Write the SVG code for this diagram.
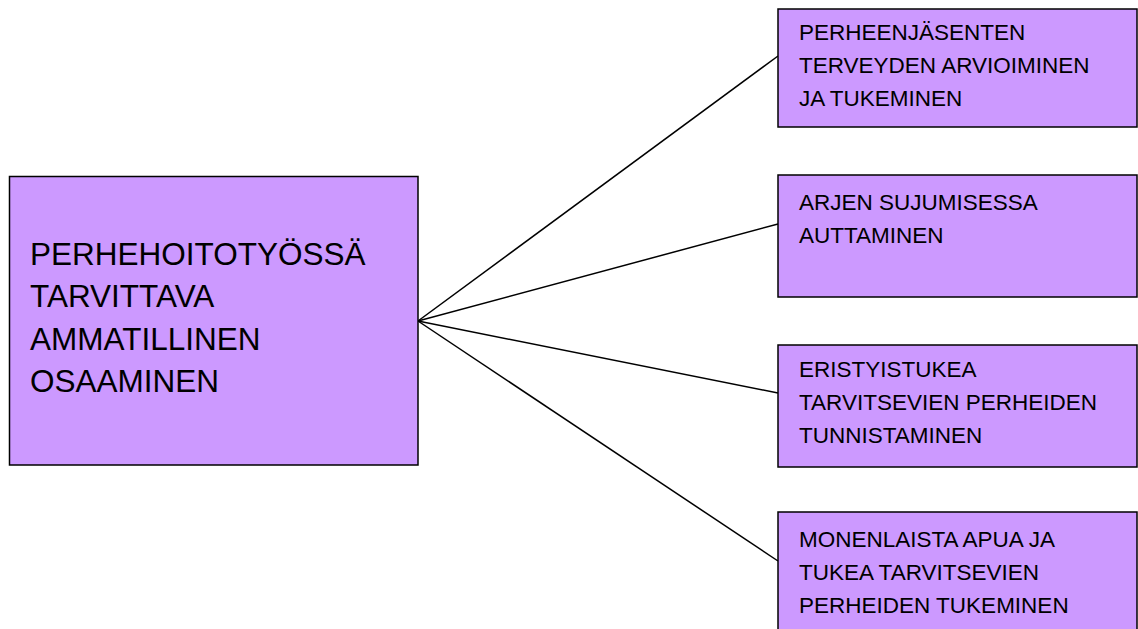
<svg xmlns="http://www.w3.org/2000/svg" width="1138" height="629" viewBox="0 0 1138 629">
<style>
.box{fill:#CC99FF;stroke:#000;stroke-width:1.5}
.t{font-family:"Liberation Sans",Arial,sans-serif;fill:#000}
.big{font-size:31.5px}
.sm{font-size:22.5px}
.con line{stroke:#000;stroke-width:1.5}
</style>
<rect width="1138" height="629" fill="#fff"/>
<g class="con" id="connectors">
<line x1="418" y1="321" x2="778" y2="56"/>
<line x1="418" y1="321" x2="778" y2="224"/>
<line x1="418" y1="321" x2="778" y2="393"/>
<line x1="418" y1="321" x2="778" y2="561"/>
</g>
<g id="main">
<rect class="box" x="9.5" y="176.5" width="408.5" height="288.5"/>
<text class="t big" x="30"><tspan x="30" y="264.5">PERHEHOITOTYÖSSÄ</tspan><tspan x="30" y="307">TARVITTAVA</tspan><tspan x="30" y="349.5">AMMATILLINEN</tspan><tspan x="30" y="392">OSAAMINEN</tspan></text>
</g>
<g id="n1">
<rect class="box" x="778" y="9" width="359" height="118"/>
<text class="t sm"><tspan x="799" y="40">PERHEENJÄSENTEN</tspan><tspan x="799" y="73">TERVEYDEN ARVIOIMINEN</tspan><tspan x="799" y="106">JA TUKEMINEN</tspan></text>
</g>
<g id="n2">
<rect class="box" x="778" y="175" width="359" height="122"/>
<text class="t sm"><tspan x="799" y="210">ARJEN SUJUMISESSA</tspan><tspan x="799" y="243">AUTTAMINEN</tspan></text>
</g>
<g id="n3">
<rect class="box" x="778" y="345" width="359" height="122"/>
<text class="t sm"><tspan x="799" y="377">ERISTYISTUKEA</tspan><tspan x="799" y="410">TARVITSEVIEN PERHEIDEN</tspan><tspan x="799" y="443">TUNNISTAMINEN</tspan></text>
</g>
<g id="n4">
<rect class="box" x="778" y="512" width="359" height="130"/>
<text class="t sm"><tspan x="799" y="547">MONENLAISTA APUA JA</tspan><tspan x="799" y="580">TUKEA TARVITSEVIEN</tspan><tspan x="799" y="613">PERHEIDEN TUKEMINEN</tspan></text>
</g>
</svg>
